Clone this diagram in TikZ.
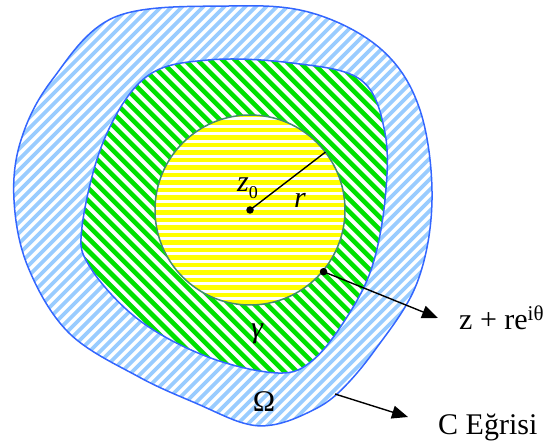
\documentclass[tikz,border=0pt]{standalone}
\usepackage{fontspec}
\setmainfont{Liberation Serif}
\usepackage{tikz}
\usetikzlibrary{arrows.meta,calc}

\definecolor{stripeblue}{RGB}{153,204,255}
\definecolor{stripegreen}{RGB}{0,225,0}
\definecolor{stripeyellow}{RGB}{255,255,0}
\definecolor{edgeblue}{RGB}{51,102,255}
\definecolor{edgeteal}{RGB}{64,140,110}

\tikzset{
  edge/.style={draw=edgeblue,line width=1.5pt},
  ptr/.style={-{Triangle[length=16pt,width=13pt]},line width=1.4pt},
  dot/.style={circle,fill,inner sep=0pt,minimum size=7.5pt},
  lbl/.style={font=\rmfamily\fontsize{30}{32}\selectfont,inner sep=0pt}
}

\def\outerblob{plot[smooth cycle,tension=0.6] coordinates {(14,200) (28,267) (69,333) (139,377) (200,405) (243,423) (272,425) (305,414) (337,394) (375,350) (417,283) (432,200) (420,110) (382,50) (312,13) (229,6) (115,17) (52,80) (21,140)}}
\def\middleblob{plot[smooth cycle,tension=0.6] coordinates {(82,227) (90,267) (139,320) (208,357) (278,373) (313,360) (347,317) (372,267) (385,200) (385,133) (361,80) (292,63) (208,60) (146,77) (104,140)}}

\begin{document}
\begin{tikzpicture}[x=1pt,y=-1pt]
  \useasboundingbox (0,0) rectangle (544,446);
  \coordinate (z0) at (250,210);

  % outer region
  \fill[white] \outerblob;
  \begin{scope}
    \clip \outerblob;
    \foreach \i in {0,10.5,...,1000}
      \draw[stripeblue,line width=3.8pt] (\i-450,450) -- (\i,0);
  \end{scope}

  % middle region
  \fill[white] \middleblob;
  \begin{scope}
    \clip \middleblob;
    \foreach \i in {-450,-437.5,...,550}
      \draw[stripegreen,line width=4.6pt] (\i,0) -- (\i+450,450);
  \end{scope}

  % disc
  \fill[white] (z0) circle[radius=95];
  \begin{scope}
    \clip (z0) circle[radius=95];
    \foreach \j in {100,107.5,...,330}
      \draw[stripeyellow,line width=4.5pt] (140,\j) -- (360,\j);
  \end{scope}

  \draw[edge] \outerblob;
  \draw[edge] \middleblob;
  \draw[edgeteal,line width=1.5pt] (z0) circle[radius=95];

  \node[dot] (ctr) at (z0) {};
  \coordinate (rEnd) at ($(z0)+(-37.5:95)$);
  \draw[line width=1.4pt] (ctr.center) -- (rEnd);
  \node[dot] (pt) at ($(z0)+(40:96)$) {};

  \node[lbl,anchor=base west] (lblZ0) at (237,192) {\itshape z\/\upshape\raisebox{-0.22em}{\fontsize{18}{18}\selectfont 0}};
  \node[lbl,anchor=base] (lblR) at (300,208) {\itshape r};
  \node[lbl,anchor=base] (lblGam) at (257,338) {\itshape γ};
  \node[lbl,anchor=base] (lblOm) at (264,412) {Ω};
  \node[lbl,anchor=base west] (lblZ) at (459,330) {z + re\textsuperscript{iθ}};
  \node[lbl,anchor=base west] (lblC) at (438,435) {C Eğrisi};

  \coordinate (tipZ) at (438,318);
  \coordinate (cEdge) at (335,394);
  \coordinate (tipC) at (408,417);
  \draw[ptr] (pt.center) -- (tipZ);
  \draw[ptr] (cEdge) -- (tipC);
\end{tikzpicture}
\end{document}
